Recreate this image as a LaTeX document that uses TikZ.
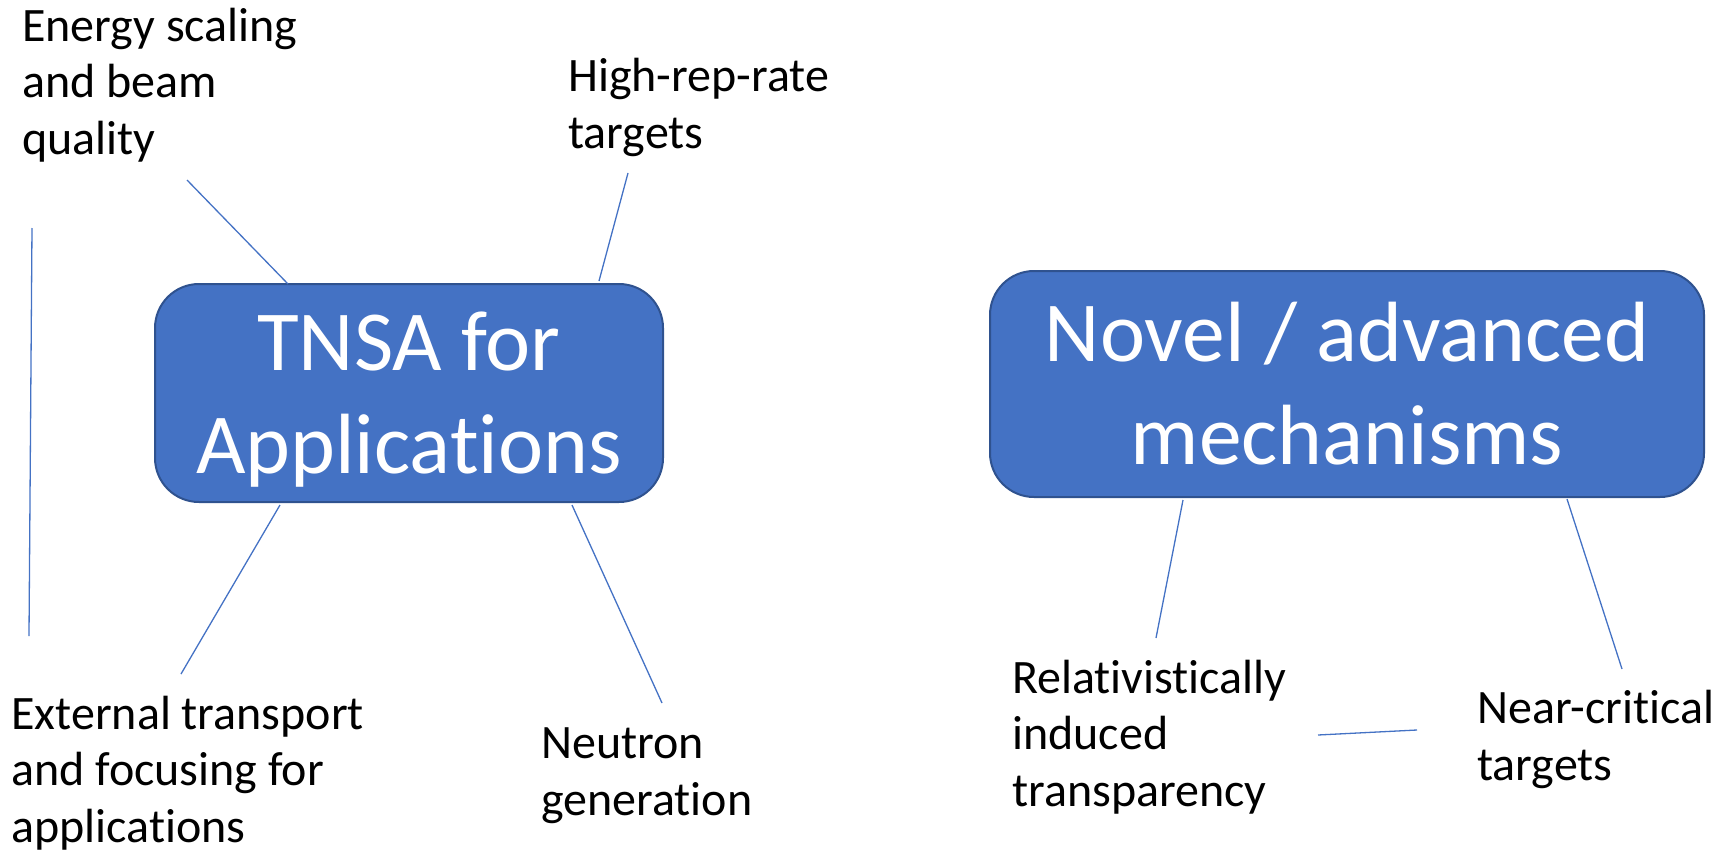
\documentclass[tikz,border=0pt]{standalone}
\usepackage{fontspec}
\setmainfont{Carlito}[Ligatures = NoCommon]
\usepackage{tikz}

\definecolor{boxblue}{HTML}{4472C4}
\definecolor{boxedge}{HTML}{2F528F}

\begin{document}
\begin{tikzpicture}[x = 1pt, y = -1pt,
        topic/.style = {draw = boxedge, line width = 2pt, fill = boxblue, rounded corners = 44pt,
            text = white, align = center, inner sep = 0pt, text height = 170pt, text depth = 10pt,
            font = \fontsize{85.5}{102.5}\selectfont},
        item/.style = {anchor = base west, align = left, inner sep = 0pt,
            font = \fontsize{48}{56.5}\selectfont},
        link/.style = {boxblue, line width = 1.3pt}]
        \useasboundingbox (0,0) rectangle (1728,851);

        % the two main topics
        \node[topic, minimum width = 508pt, minimum height = 218pt] (tnsa) at (409,393) {TNSA for\\Applications};
        \node[topic, minimum width = 714pt, minimum height = 226pt] (novel) at (1347,384) {Novel / advanced\\mechanisms};

        % sub-topics (placed by the baseline of their last line)
        \node[item] (energy) at (22,154) {Energy scaling\\and beam\\quality};
        \node[item] (highrep) at (568,148) {High-rep-rate\\targets};
        \node[item] (transport) at (11,842) {External transport\\and focusing for\\applications};
        \node[item] (neutron) at (541,815) {Neutron\\generation};
        \node[item] (transp) at (1012,806) {Relativistically\\induced\\transparency};
        \node[item] (nearcrit) at (1477,780) {Near-critical\\targets};

        % end points of the links
        \coordinate (e1) at (187,180);
        \coordinate (h1) at (628,173);
        \coordinate (t1) at (181,674);
        \coordinate (n1) at (662,703);
        \coordinate (r1) at (1156,638);
        \coordinate (c1) at (1622,669);
        \coordinate (v1) at (32,228);
        \coordinate (v2) at (29,636);
        \coordinate (s1) at (1318,735);
        \coordinate (s2) at (1417,730);
        \path (tnsa.north west) ++(134,1) coordinate (e2);
        \path (tnsa.north east) ++(-65,-2) coordinate (h2);
        \path (tnsa.south west) ++(126,2) coordinate (t2);
        \path (tnsa.south east) ++(-92,2) coordinate (n2);
        \path (novel.south west) ++(194,2) coordinate (r2);
        \path (novel.south east) ++(-138,1) coordinate (c2);

        \draw[link] (e1) -- (e2);
        \draw[link] (h1) -- (h2);
        \draw[link] (t1) -- (t2);
        \draw[link] (n1) -- (n2);
        \draw[link] (r1) -- (r2);
        \draw[link] (c1) -- (c2);
        \draw[link] (v1) -- (v2);
        \draw[link] (s1) -- (s2);
    \end{tikzpicture}
\end{document}
